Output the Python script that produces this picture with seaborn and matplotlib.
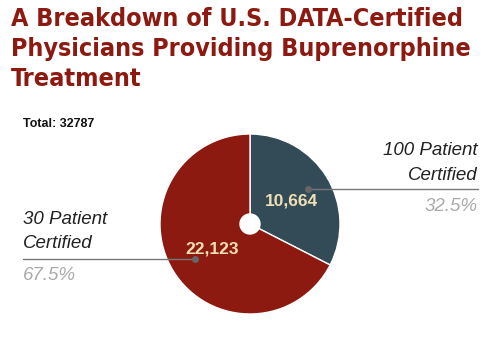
import matplotlib
matplotlib.use("Agg")
import matplotlib.pyplot as plt
import seaborn as sns

sns.set_theme(style="white")
plt.rcParams["font.family"] = ["Liberation Sans", "DejaVu Sans"]

# Physician certification breakdown
categories = ["100 Patient\nCertified", "30 Patient\nCertified"]
counts = [10664, 22123]
count_labels = ["10,664", "22,123"]
pct_labels = ["32.5%", "67.5%"]
total_label = "Total: 32787"
title = "A Breakdown of U.S. DATA-Certified\nPhysicians Providing Buprenorphine\nTreatment"

colors = ["#334a57", "#8c1a10"]

W, H = 500, 341
fig = plt.figure(figsize=(W / 100, H / 100), dpi=100)
ax = fig.add_axes([0, 0, 1, 1])


def Y(y):
    # pixel row measured from the top edge
    return H - y


cx, cy, r = 250, Y(224), 90
wedges, _ = ax.pie(counts, colors=colors, startangle=90, counterclock=False,
                   center=(cx, cy), radius=r, frame=True,
                   wedgeprops=dict(edgecolor="white", linewidth=1.0))
ax.set_xlim(0, W)
ax.set_ylim(0, H)
ax.set_aspect("equal")
ax.axis("off")
ax.add_patch(plt.Circle((cx, cy), 10, color="white", zorder=5))

# value labels inside slices
ax.text(291, Y(205), count_labels[0], color="#efdfb5", fontsize=12.5,
        fontweight="bold", ha="center", va="baseline", zorder=6)
ax.text(212, Y(253), count_labels[1], color="#efdfb5", fontsize=12.5,
        fontweight="bold", ha="center", va="baseline", zorder=6)

line_c = "#777777"
# right callout
ax.plot([308, 478], [Y(189), Y(189)], color=line_c, lw=1, zorder=6)
ax.plot([308], [Y(189)], "o", color="#666666", ms=4, zorder=7)
l1, l2 = categories[0].split("\n")
ax.text(478, Y(155), l1, fontsize=13.5, style="italic", color="#222222",
        ha="right", va="baseline")
ax.text(478, Y(180), l2, fontsize=13.5, style="italic", color="#222222",
        ha="right", va="baseline")
ax.text(478, Y(211), pct_labels[0], fontsize=13.5, style="italic",
        color="#aaaaaa", ha="right", va="baseline")

# left callout
ax.plot([23, 195], [Y(259), Y(259)], color=line_c, lw=1, zorder=6)
ax.plot([195], [Y(259)], "o", color="#666666", ms=4, zorder=7)
l1, l2 = categories[1].split("\n")
ax.text(23, Y(224), l1, fontsize=13.5, style="italic", color="#222222",
        ha="left", va="baseline")
ax.text(23, Y(248), l2, fontsize=13.5, style="italic", color="#222222",
        ha="left", va="baseline")
ax.text(23, Y(280), pct_labels[1], fontsize=13.5, style="italic",
        color="#aaaaaa", ha="left", va="baseline")

ax.text(23, Y(127), total_label, fontsize=9, fontweight="bold", color="#111111",
        ha="left", va="baseline")

for yb, line in zip([26.5, 56, 85.5], title.split("\n")):
    ax.text(11, Y(yb), line, fontsize=18, fontweight="bold",
            fontstretch="condensed", color="#8c1a10", family=["DejaVu Sans"],
            ha="left", va="baseline")

fig.savefig("out.png", dpi=100)
